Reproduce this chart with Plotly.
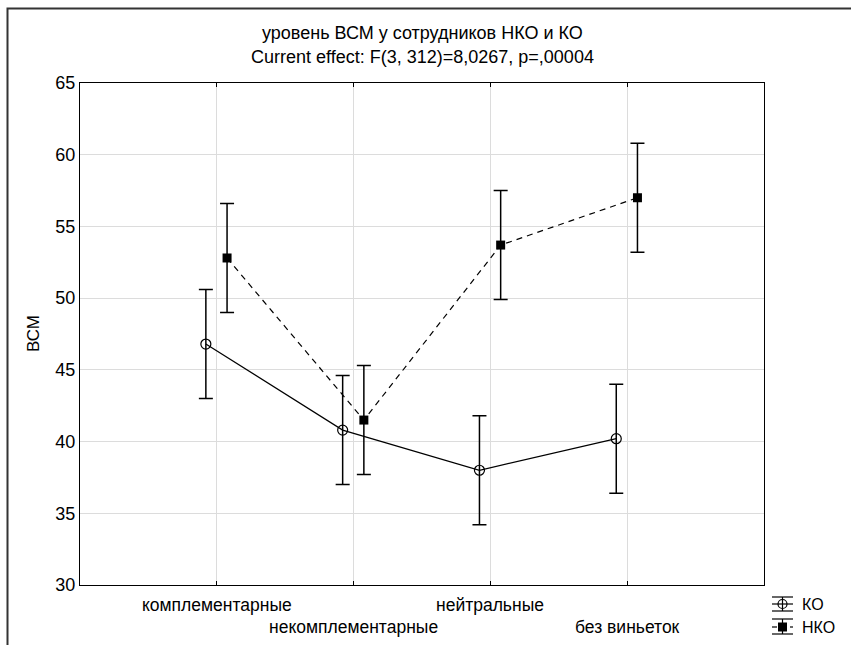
import plotly.graph_objects as go

# Group means of ВСМ by vignette type, with 95% CI half-widths
categories = ["комплементарные", "некомплементарные", "нейтральные", "без виньеток"]
ko_mean = [46.8, 40.8, 38.0, 40.2]
nko_mean = [52.8, 41.5, 53.7, 57.0]
ko_ci = [3.8, 3.8, 3.8, 3.8]
nko_ci = [3.8, 3.8, 3.8, 3.8]
y_ticks = [30, 35, 40, 45, 50, 55, 60, 65]
series_names = ["КО", "НКО"]

title_1 = "уровень ВСМ у сотрудников НКО и КО"
title_2 = "Current effect: F(3, 312)=8,0267, p=,00004"

FONT = "Arial, Liberation Sans, sans-serif"
W, H = 851, 645
L, R, T, B = 80, 87, 83, 60
PW, PH = W - L - R, H - T - B


def px_x(px):
    return (px - L) / PW


def px_y(py):
    return (H - B - py) / PH


pos = [i + 1 for i in range(len(categories))]
ko_x = [p - 0.08 for p in pos]
nko_x = [p + 0.075 for p in pos]

fig = go.Figure()
fig.add_trace(go.Scatter(
    x=ko_x, y=ko_mean, name=series_names[0], mode="lines+markers",
    line=dict(color="black", width=1.2),
    marker=dict(symbol="circle-open", size=10, color="black", line=dict(width=1.2)),
    error_y=dict(type="data", array=ko_ci, color="black", thickness=1.5, width=7),
))
fig.add_trace(go.Scatter(
    x=nko_x, y=nko_mean, name=series_names[1], mode="lines+markers",
    line=dict(color="black", width=1.2, dash="6px,5px"),
    marker=dict(symbol="square", size=9, color="black"),
    error_y=dict(type="data", array=nko_ci, color="black", thickness=1.5, width=7),
))


def text_note(text, x, y, size, xref="paper", xanchor="center", angle=0):
    return dict(text=text, x=x, y=y, xref=xref, yref="paper",
                xanchor=xanchor, yanchor="middle", textangle=angle,
                showarrow=False, font=dict(size=size, family=FONT, color="black"))


annotations = [
    text_note(title_1, 0.5, px_y(33), 18),
    text_note(title_2, 0.5, px_y(57), 18),
    text_note("ВСМ", px_x(33), px_y(334), 17, angle=-90),
]
# staggered category labels
for i, (p, c) in enumerate(zip(pos, categories)):
    row_y = 605 if i % 2 == 0 else 627
    annotations.append(text_note(c, p, px_y(row_y), 17.5, xref="x"))

shapes = [
    # outer frame (right and bottom edges run past the page)
    dict(type="rect", xref="paper", yref="paper",
         x0=px_x(7.5), x1=px_x(870), y0=px_y(670), y1=px_y(8.5),
         line=dict(color="#333333", width=2), layer="above"),
]

# legend keys: error-bar icon with marker, then the series name
legend_rows = [(604, 597, 611, "solid"), (627, 619, 634, "dash")]
kx0, kx1, kc = 772, 793, 782.5


def seg(x0, x1, y0, y1):
    return dict(type="line", xref="paper", yref="paper",
                x0=px_x(x0), x1=px_x(x1), y0=px_y(y0), y1=px_y(y1),
                line=dict(color="black", width=1.2))


for (cy, ytop, ybot, style), name in zip(legend_rows, series_names):
    shapes.append(seg(kx0, kx1, ytop, ytop))
    shapes.append(seg(kx0, kx1, ybot, ybot))
    shapes.append(seg(kc, kc, ytop, ybot))
    if style == "solid":
        shapes.append(seg(kx0, kx1, cy, cy))
        shapes.append(dict(type="circle", xref="paper", yref="paper",
                           x0=px_x(kc - 4.5), x1=px_x(kc + 4.5),
                           y0=px_y(cy + 4.5), y1=px_y(cy - 4.5),
                           line=dict(color="black", width=1.2)))
    else:
        shapes.append(seg(kx0, kx0 + 5, cy, cy))
        shapes.append(seg(kx1 - 3, kx1, cy, cy))
        shapes.append(dict(type="rect", xref="paper", yref="paper",
                           x0=px_x(kc - 4.5), x1=px_x(kc + 4.5),
                           y0=px_y(cy + 4.5), y1=px_y(cy - 4.5),
                           fillcolor="black", line=dict(color="black", width=0)))
    annotations.append(text_note(name, px_x(800), px_y(cy), 16, xanchor="left"))

fig.update_layout(
    width=W, height=H,
    margin=dict(l=L, r=R, t=T, b=B, autoexpand=False),
    paper_bgcolor="white", plot_bgcolor="white",
    font=dict(family=FONT, size=14, color="black"),
    annotations=annotations,
    shapes=shapes,
    showlegend=False,
)
fig.update_xaxes(
    range=[0, 5], tickvals=pos, ticktext=["", "", "", ""],
    showgrid=True, gridcolor="#dcdcdc", gridwidth=1,
    showline=True, linecolor="black", linewidth=1.2, mirror="ticks",
    ticks="inside", ticklen=4, tickcolor="black", zeroline=False,
)
fig.update_yaxes(
    range=[30, 65], tickvals=y_ticks,
    showgrid=True, gridcolor="#dcdcdc", gridwidth=1,
    showline=True, linecolor="black", linewidth=1.2, mirror=True,
    ticks="", tickfont=dict(size=18, family=FONT), zeroline=False,
)

fig.write_html("out.html")
